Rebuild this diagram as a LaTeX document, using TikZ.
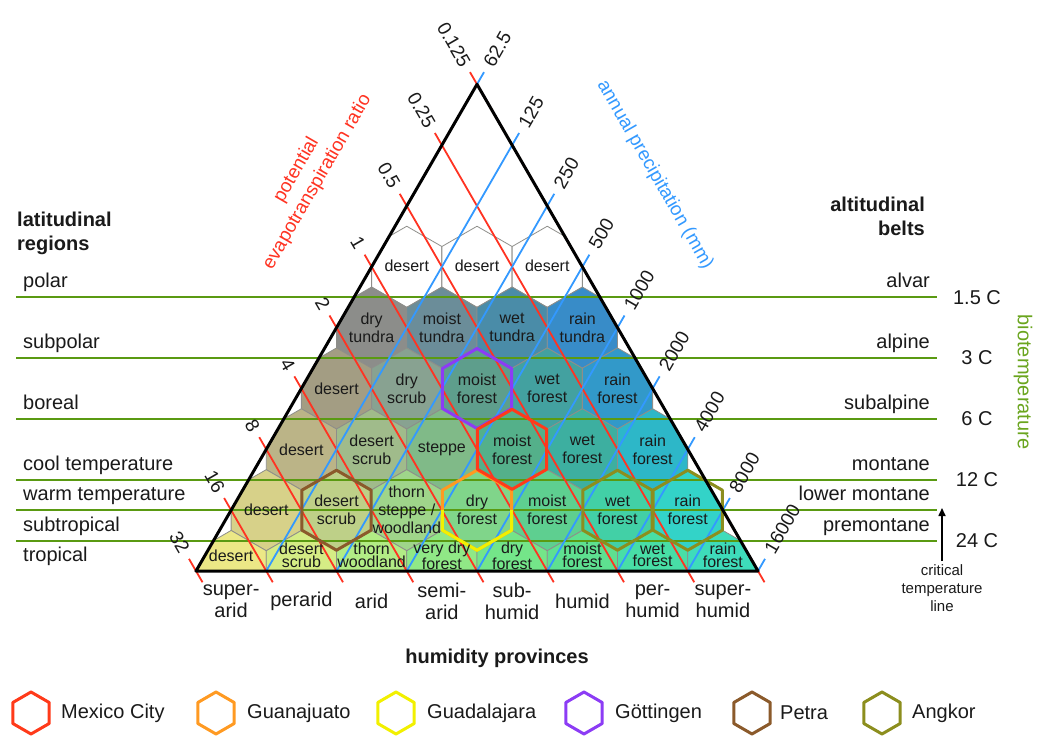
\documentclass[tikz,border=0pt]{standalone}
\usepackage{fontspec}
\setmainfont{Liberation Sans}
\usetikzlibrary{arrows.meta}

\definecolor{ink}{HTML}{1A1A1A}
\definecolor{petred}{HTML}{FF3322}
\definecolor{precblue}{HTML}{3399FF}
\definecolor{beltgreen}{HTML}{5A9A12}
\definecolor{biogreen}{HTML}{6AA51E}
\definecolor{hexgrey}{HTML}{8E8E8A}
% life-zone fills, row by row from the top
\definecolor{c21}{HTML}{8C8D8A}\definecolor{c22}{HTML}{6B8D99}\definecolor{c23}{HTML}{4A8CA8}\definecolor{c24}{HTML}{388CC8}
\definecolor{c31}{HTML}{A39D83}\definecolor{c32}{HTML}{88A291}\definecolor{c33}{HTML}{5E9E8C}\definecolor{c34}{HTML}{43A1A0}\definecolor{c35}{HTML}{3299C9}
\definecolor{c41}{HTML}{BBB487}\definecolor{c42}{HTML}{A0BB8B}\definecolor{c43}{HTML}{80BA88}\definecolor{c44}{HTML}{54B08A}\definecolor{c45}{HTML}{3DAFA0}\definecolor{c46}{HTML}{2DB7C8}
\definecolor{c51}{HTML}{D7D189}\definecolor{c52}{HTML}{BED088}\definecolor{c53}{HTML}{9FD58A}\definecolor{c54}{HTML}{80D58A}\definecolor{c55}{HTML}{5ECF90}\definecolor{c56}{HTML}{42D0A6}\definecolor{c57}{HTML}{33D3C8}
\definecolor{c61}{HTML}{ECE886}\definecolor{c62}{HTML}{D5EC85}\definecolor{c63}{HTML}{B2EC85}\definecolor{c64}{HTML}{90E886}\definecolor{c65}{HTML}{74E589}\definecolor{c66}{HTML}{5EE090}\definecolor{c67}{HTML}{48DEA6}\definecolor{c68}{HTML}{3EDCBA}
% site outlines
\definecolor{hlRed}{HTML}{FF3A1A}
\definecolor{hlOrange}{HTML}{FF9A22}
\definecolor{hlYellow}{HTML}{F2F000}
\definecolor{hlPurple}{HTML}{8C3CF5}
\definecolor{hlBrown}{HTML}{8B5A2B}
\definecolor{hlOlive}{HTML}{8C8E1E}

\newcommand\hexR{40.56}
\newcommand\hexpath[1]{(30:#1) -- (90:#1) -- (150:#1) -- (210:#1) -- (270:#1) -- (330:#1) -- cycle}

% one row of hexagon cells: y centre, number of cells, colour/label list macro
\newcommand\hexfills[3]{%
  \foreach \col/\lab [count=\i from 0] in #3 {
    \pgfmathsetmacro\xx{477+(\i-(#2-1)/2)*70.25}
    \fill[\col, shift={(\xx,#1)}] \hexpath{\hexR};
    \draw[hexedge, shift={(\xx,#1)}] \hexpath{\hexR};
  }}
% labels of one row: y, number of cells, list macro, style, name prefix
\newcommand\hexlabels[5]{%
  \foreach \col/\lab [count=\i from 0] in #3 {
    \pgfmathsetmacro\xx{477+(\i-(#2-1)/2)*70.25}
    \node[#4] (#5\i) at (\xx,#1) {\lab};
  }}

\newcommand\rowA{white/desert,white/desert,white/desert}
\newcommand\rowB{c21/{dry\\tundra},c22/{moist\\tundra},c23/{wet\\tundra},c24/{rain\\tundra}}
\newcommand\rowC{c31/desert,c32/{dry\\scrub},c33/{moist\\forest},c34/{wet\\forest},c35/{rain\\forest}}
\newcommand\rowD{c41/desert,c42/{desert\\scrub},c43/steppe,c44/{moist\\forest},c45/{wet\\forest},c46/{rain\\forest}}
\newcommand\rowE{c51/desert,c52/{desert\\scrub},c53/{thorn\\steppe /\\woodland},c54/{dry\\forest},c55/{moist\\forest},c56/{wet\\forest},c57/{rain\\forest}}
\newcommand\rowF{c61/desert,c62/{desert\\scrub},c63/{thorn\\woodland},c64/{very dry\\forest},c65/{dry\\forest},c66/{moist\\forest},c67/{wet\\forest},c68/{rain\\forest}}

\begin{document}
\begin{tikzpicture}[x=1pt,y=-1pt,
  hexedge/.style={draw=hexgrey, line width=0.8pt},
  hexlabel/.style={font=\fontsize{16}{18}\selectfont, align=center, text=ink, inner sep=0pt},
  baselabel/.style={font=\fontsize{16}{12.5}\selectfont, align=center, text=ink, inner sep=0pt},
  petline/.style={draw=petred, line width=1.8pt},
  precline/.style={draw=precblue, line width=1.8pt},
  beltline/.style={draw=beltgreen, line width=2pt},
  axisnum/.style={font=\fontsize{19}{22}\selectfont, text=ink, inner sep=0pt},
  txt/.style={font=\fontsize{20}{24}\selectfont, text=ink, inner sep=0pt},
  heading/.style={font=\bfseries\fontsize{20}{24}\selectfont, text=ink, inner sep=0pt},
  sitehex/.style={line width=3pt, line join=round},
]
\useasboundingbox (0,0) rectangle (1037,736);
\fill[white] (0,0) rectangle (1037,736);

% triangle corners
\coordinate (A) at (196,571);
\coordinate (B) at (758,571);
\coordinate (C) at (477,84.28);

% hexagon cells, clipped to the triangle
\begin{scope}
  \clip (A) -- (B) -- (C) -- cycle;
  \hexfills{266.8}{3}{\rowA}
  \hexfills{327.6}{4}{\rowB}
  \hexfills{388.5}{5}{\rowC}
  \hexfills{449.3}{6}{\rowD}
  \hexfills{510.2}{7}{\rowE}
  \hexfills{571.0}{8}{\rowF}
\end{scope}

% biotemperature belts
\foreach \yy [count=\n] in {297.2,358.1,418.9,479.8,510.2,540.6} {
  \coordinate (gl\n) at (16,\yy);
  \coordinate (gr\n) at (937,\yy);
  \draw[beltline] (gl\n) -- (gr\n);
}

% potential evapotranspiration ratio lines
\foreach \k/\lab in {0/32,1/16,2/8,3/4,4/2,5/1,6/0.5,7/0.25,8/0.125} {
  \pgfmathsetmacro\qx{196+35.125*\k-7}
  \pgfmathsetmacro\qy{571-60.84*\k-12.12}
  \pgfmathsetmacro\px{196+70.25*\k+6.5}
  \coordinate (q\k) at (\qx,\qy);
  \coordinate (p\k) at (\px,582.26);
  \draw[petline] (q\k) -- (p\k);
  \node[axisnum, anchor=east, rotate=-60] (pn\k) at (\qx-4,\qy-6.9) {\lab};
}

% annual precipitation lines
\foreach \j/\lab in {0/62.5,1/125,2/250,3/500,4/1000,5/2000,6/4000,7/8000,8/16000} {
  \pgfmathsetmacro\sx{\j==0 ? 477 : 196+70.25*\j}
  \pgfmathsetmacro\sy{\j==0 ? 84.28 : 571}
  \pgfmathsetmacro\ex{477+35.125*\j+7}
  \pgfmathsetmacro\ey{84.28+60.84*\j-12.12}
  \coordinate (bs\j) at (\sx,\sy);
  \coordinate (be\j) at (\ex,\ey);
  \draw[precline] (bs\j) -- (be\j);
  \node[axisnum, anchor=west, rotate=60] (bn\j) at (\ex+4,\ey-6.9) {\lab};
}

% outlines of the sites
\draw[sitehex, draw=hlPurple, shift={(477,388.5)}] \hexpath{40};
\draw[sitehex, draw=hlOrange, shift={(477,510.2)}] \hexpath{40};
\draw[sitehex, draw=hlYellow, shift={(477,510.2)}] (180:34.64) -- (150:40) -- (90:40) -- (30:40) -- (0:34.64);
\draw[sitehex, draw=hlRed, shift={(512.1,449.3)}] \hexpath{40};
\draw[sitehex, draw=hlBrown, shift={(336.5,510.2)}] \hexpath{40};
\draw[sitehex, draw=hlOlive, shift={(617.5,510.2)}] \hexpath{40};
\draw[sitehex, draw=hlOlive, shift={(687.75,510.2)}] \hexpath{40};

% triangle frame
\draw[line width=3pt, line join=round] (A) -- (B) -- (C) -- cycle;

% cell labels
\hexlabels{265.5}{3}{\rowA}{hexlabel}{rA}
\hexlabels{327.6}{4}{\rowB}{hexlabel}{rB}
\hexlabels{388.5}{5}{\rowC}{hexlabel}{rC}
\hexlabels{449.3}{6}{\rowD}{hexlabel}{rD}
\hexlabels{510.2}{7}{\rowE}{hexlabel}{rE}
\hexlabels{555.5}{8}{\rowF}{baselabel}{rF}

% axis titles
\node[font=\fontsize{19}{24}\selectfont, text=petred, align=center, rotate=60, inner sep=0pt] (pettitle) at (307,176) {potential\\evapotranspiration ratio};
\node[font=\fontsize{19}{24}\selectfont, text=precblue, rotate=-60, inner sep=0pt] (prectitle) at (655,175) {annual precipitation (mm)};
\node[font=\fontsize{20}{24}\selectfont, text=biogreen, rotate=-90, inner sep=0pt] (biotitle) at (1023,382) {biotemperature};

% latitudinal regions
\node[heading, align=left, anchor=west] (lathead) at (17,233) {latitudinal\\regions};
\foreach \yy/\lab [count=\n] in {287/polar,348/subpolar,409/boreal,470/cool temperature,500/warm temperature,531/subtropical,561/tropical} {
  \node[txt, anchor=base west] (lat\n) at (23,\yy) {\lab};
}

% altitudinal belts
\node[heading, align=right, anchor=east] (althead) at (925,216) {altitudinal\\belts};
\foreach \yy/\lab [count=\n] in {287/alvar,348/alpine,409/subalpine,470/montane,500/lower montane,531/premontane} {
  \node[txt, anchor=base east] (alt\n) at (930,\yy) {\lab};
}

% biotemperature values
\foreach \yy/\lab [count=\n] in {297.2/1.5 C,358.1/3 C,418.9/6 C,479.8/12 C,540.6/24 C} {
  \node[txt] (temp\n) at (977,\yy) {\lab};
}

% critical temperature line
\node[font=\fontsize{15}{18}\selectfont, text=ink, align=center, anchor=north, inner sep=0pt] (crit) at (942,564) {critical\\temperature\\line};
\coordinate (crittip) at (942,508);
\draw[line width=1.6pt, -{Triangle[length=8pt,width=7pt]}] (crit.north) ++(0,-3) coordinate (critbase) (critbase) -- (crittip);

% humidity provinces
\foreach \xx/\lab [count=\n] in {231.1/{super-\\arid},301.4/perarid,371.6/arid,441.9/{semi-\\arid},512.1/{sub-\\humid},582.4/humid,652.6/{per-\\humid},722.9/{super-\\humid}} {
  \node[txt, font=\fontsize{20}{22}\selectfont, align=center] (hum\n) at (\xx,601.5) {\lab};
}
\node[heading] (humhead) at (497,658) {humidity provinces};

% legend
\foreach \hx/\tx/\col/\nm [count=\n] in {31/61/hlRed/Mexico City,216/247/hlOrange/Guanajuato,396/427/hlYellow/Guadalajara,584/615/hlPurple/Göttingen,752/780/hlBrown/Petra,882/912/hlOlive/Angkor} {
  \draw[sitehex, draw=\col, shift={(\hx,713)}] \hexpath{21};
  \node[txt, anchor=west] (leg\n) at (\tx,713) {\nm};
}
\end{tikzpicture}
\end{document}
